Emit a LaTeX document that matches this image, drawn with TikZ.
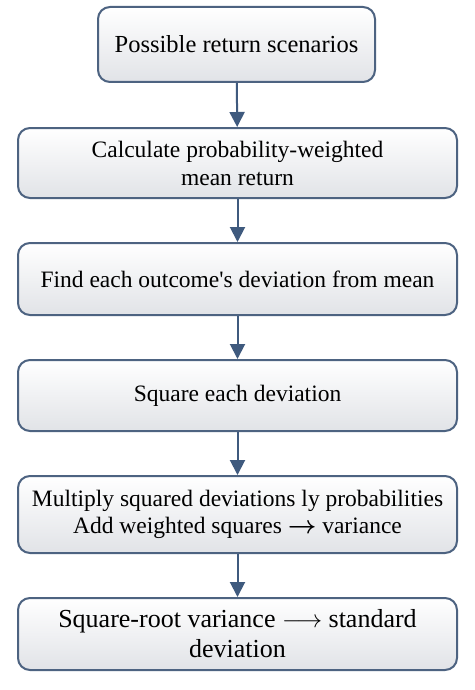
\documentclass[tikz,border=0pt]{standalone}
\usepackage{amsmath,amssymb}
\usepackage{fontspec}
\setmainfont{Liberation Serif}
\usetikzlibrary{arrows.meta}

\definecolor{boxline}{HTML}{4D6381}
\definecolor{boxfill}{HTML}{E1E3E7}
\definecolor{flowline}{HTML}{3F5A7E}

\tikzset{
    stepbox/.style={draw=boxline, line width=2pt, rounded corners=12pt,
        top color=white, bottom color=boxfill, minimum width=439pt,
        minimum height=72pt, inner sep=2pt, align=center, text=black,
        font=\fontsize{23.5}{28}\selectfont},
    flow/.style={draw=flowline, line width=2pt,
        -{Triangle[length=15pt,width=15pt]}}
}

\begin{document}
\begin{tikzpicture}[x=1pt,y=-1pt]
    % Fix the page to the picture size
    \useasboundingbox[fill=white] (0,0) rectangle (474,690);

    % Draw the steps, top to bottom
    \node[stepbox, minimum width=277pt, minimum height=75pt,
        font=\fontsize{24.5}{29}\selectfont] (possible) at (236.5,44.5) {Possible return scenarios};
    \node[stepbox, minimum height=70pt] (mean) at (237.5,163) {Calculate probability-weighted\\ mean return};
    \node[stepbox] (dev) at (237.5,279) {Find each outcome\textquotesingle s deviation from mean};
    \node[stepbox, minimum height=71pt] (square) at (237.5,395.5) {Square each deviation};
    \node[stepbox, minimum height=77pt, font=\fontsize{23.5}{27.5}\selectfont] (weight) at (237.5,514.5)
        {Multiply squared deviations ly probabilities\\ Add weighted squares $\boldsymbol{\rightarrow}$ variance};
    \node[stepbox, font=\fontsize{26}{30}\selectfont] (stddev) at (237.5,634)
        {Square-root variance $\longrightarrow$ standard\\ deviation};

    % Connect the steps with arrows
    \draw[flow] (possible) -- (mean);
    \draw[flow] (mean) -- (dev);
    \draw[flow] (dev) -- (square);
    \draw[flow] (square) -- (weight);
    \draw[flow] (weight) -- (stddev);
\end{tikzpicture}
\end{document}
